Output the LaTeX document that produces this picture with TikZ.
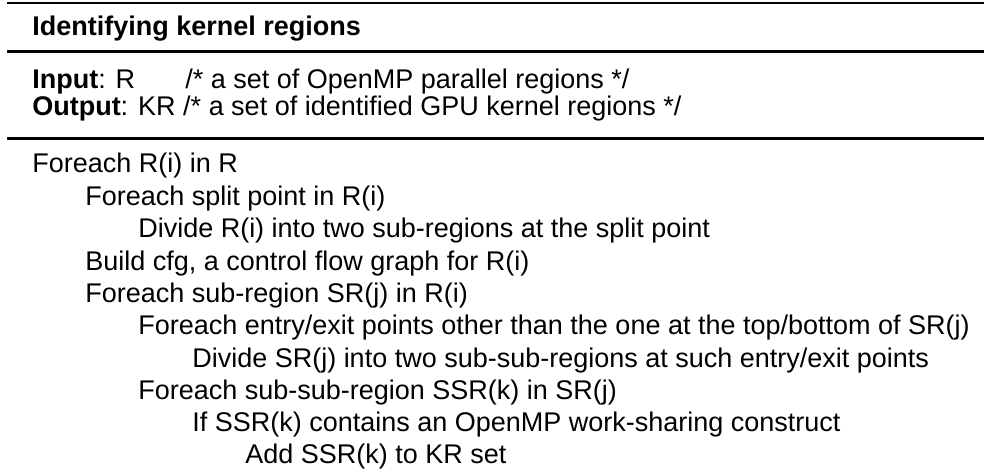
\documentclass[tikz,border=0pt]{standalone}
\usepackage{fontspec}
\setmainfont{Liberation Sans}
\usetikzlibrary{positioning}

\tikzset{
  txt/.style={anchor=base west, inner sep=0pt, font=\fontsize{19.2}{23}\selectfont},
  headtxt/.style={txt, font=\fontsize{19.2}{23}\selectfont\bfseries},
  toprule/.style={line width=1.5pt},
  midrule/.style={line width=2.2pt},
}

\begin{document}
\begin{tikzpicture}[x=0.025cm, y=-0.025cm]
    \useasboundingbox (0,0) rectangle (984,475);

    % Rules of the table
    \coordinate (r1w) at (7,3);     \coordinate (r1e) at (984,3);
    \coordinate (r2w) at (7,51.5);  \coordinate (r2e) at (984,51.5);
    \coordinate (r3w) at (7,138.5); \coordinate (r3e) at (984,138.5);
    \draw[toprule] (r1w) -- (r1e);
    \draw[midrule] (r2w) -- (r2e);
    \draw[midrule] (r3w) -- (r3e);

    % Header
    \node[headtxt] (title) at (32,35) {Identifying kernel regions};
    \node[txt] (input) at (32,88) {\textbf{Input}: R};
    \node[txt] (incmt) at (185,88) {/* a set of OpenMP parallel regions */};
    \node[txt] (output) at (32,115) {\textbf{Output}: KR /* a set of identified GPU kernel regions */};

    % Body
    \node[txt] (l1)  at (32,172)  {Foreach R(i) in R};
    \node[txt] (l2)  at (85,205)  {Foreach split point in R(i)};
    \node[txt] (l3)  at (138,237) {Divide R(i) into two sub-regions at the split point};
    \node[txt] (l4)  at (85,270)  {Build cfg, a control flow graph for R(i)};
    \node[txt] (l5)  at (85,302)  {Foreach sub-region SR(j) in R(i)};
    \node[txt] (l6)  at (138,334) {Foreach entry/exit points other than the one at the top/bottom of SR(j)};
    \node[txt] (l7)  at (192,367) {Divide SR(j) into two sub-sub-regions at such entry/exit points};
    \node[txt] (l8)  at (138,399) {Foreach sub-sub-region SSR(k) in SR(j)};
    \node[txt] (l9)  at (192,431) {If SSR(k) contains an OpenMP work-sharing construct};
    \node[txt] (l10) at (245,463) {Add SSR(k) to KR set};
\end{tikzpicture}
\end{document}
